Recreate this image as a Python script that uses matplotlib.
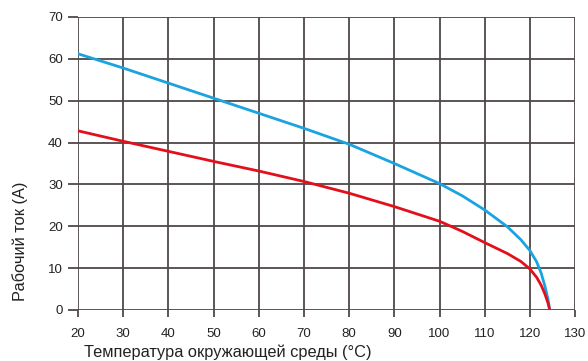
import numpy as np
import matplotlib.pyplot as plt

plt.rcParams['font.family'] = ['Liberation Sans', 'DejaVu Sans']

# temperature (°C) vs working current (A)
temp_blue = [20, 30, 40, 50, 60, 70, 80, 90, 100, 105, 110, 115, 118, 120, 121.5, 122.5, 123.3, 124.0, 124.4]
cur_blue = [61.2, 57.8, 54.2, 50.6, 47.0, 43.4, 39.6, 35.0, 30.2, 27.3, 23.9, 19.9, 16.8, 14.2, 11.5, 8.8, 5.8, 2.6, 0.0]

temp_red = [20, 30, 40, 50, 60, 70, 80, 90, 100, 105, 110, 115, 118, 120, 121.5, 122.5, 123.3, 124.0, 124.4]
cur_red = [42.8, 40.3, 37.9, 35.5, 33.2, 30.7, 27.9, 24.7, 21.2, 18.8, 16.1, 13.5, 11.6, 9.8, 7.8, 5.9, 3.9, 1.7, 0.0]

x_ticks = [20, 30, 40, 50, 60, 70, 80, 90, 100, 110, 120, 130]
y_ticks = [0, 10, 20, 30, 40, 50, 60, 70]

fig = plt.figure(figsize=(5.88, 3.61), dpi=100)
ax = fig.add_axes([0.1327, 0.1413, 0.8453, 0.8117])

grid_c = '#4f4848'
ax.plot(temp_blue, cur_blue, color='#19a3e0', lw=2, zorder=3, solid_joinstyle='round')
ax.plot(temp_red, cur_red, color='#e3101b', lw=2, zorder=3, solid_joinstyle='round')

ax.set_xlim(20, 130)
ax.set_ylim(0, 70)
ax.set_xticks(x_ticks)
ax.set_yticks(y_ticks)
ax.grid(True, color=grid_c, lw=1.3)
for s in ax.spines.values():
    s.set_visible(False)
ax.tick_params(axis='both', colors=grid_c, labelcolor='#222222', labelsize=9.5, width=1.3)
ax.tick_params(axis='y', length=7, pad=4)
ax.tick_params(axis='x', length=5, pad=8)

# axis titles sit off-centre in the original
fig.text(84 / 588, 1 - 352 / 361, 'Температура окружающей среды (°C)',
         fontsize=11.8, color='#222222', ha='left', va='center')
fig.text(20 / 588, 1 - 241 / 361, 'Рабочий ток (A)', rotation=90,
         fontsize=11.8, color='#222222', ha='center', va='center')

fig.savefig('out.png', dpi=100)
